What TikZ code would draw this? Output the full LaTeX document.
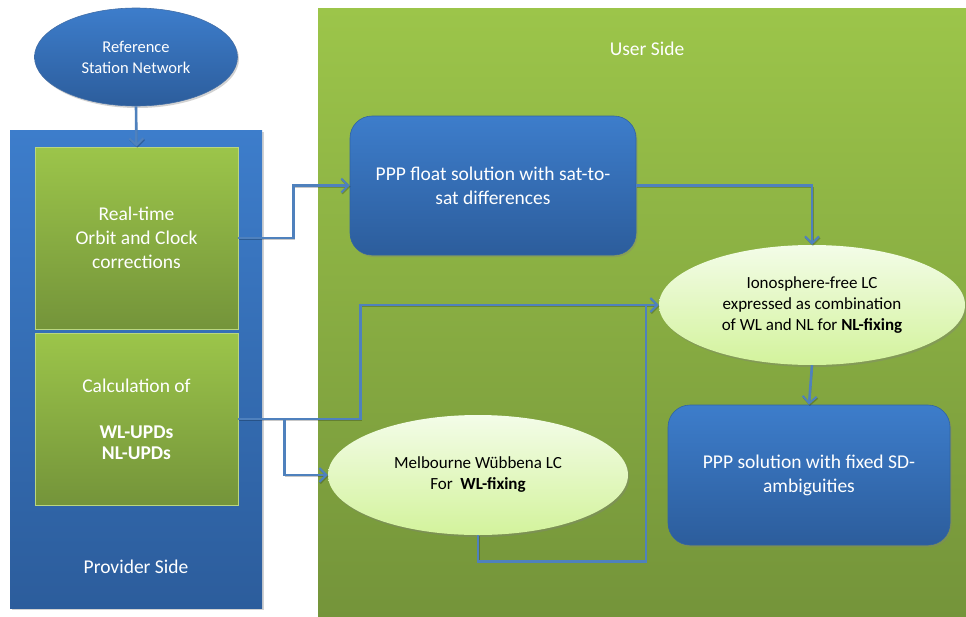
\documentclass[tikz,border=0pt]{standalone}
\usepackage{fontspec}
\setmainfont{Carlito}
\usetikzlibrary{arrows.meta,shapes.geometric,shadows,calc}
\definecolor{bluetop}{HTML}{3D7DCB}
\definecolor{bluebot}{HTML}{2C5D9C}
\definecolor{greentop}{HTML}{9CC54A}
\definecolor{greenbot}{HTML}{74943A}
\definecolor{paletop}{HTML}{F3FCE8}
\definecolor{palebot}{HTML}{D3F39C}
\definecolor{connblue}{HTML}{4F81BD}
\tikzset{
  shade blue/.style={top color=bluetop, bottom color=bluebot},
  shade green/.style={top color=greentop, bottom color=greenbot},
  softshadow/.style={drop shadow={opacity=0.35, shadow xshift=1.5pt, shadow yshift=-2pt}},
  blueoval/.style={ellipse, shade blue, draw=bluebot!90, line width=0.6pt, softshadow,
    text=white, align=center, font=\fontsize{16.5}{21}\selectfont, inner sep=0pt},
  paleoval/.style={ellipse, top color=paletop, bottom color=palebot, draw=none, softshadow,
    text=black, align=center, font=\fontsize{17}{21}\selectfont, inner sep=0pt},
  greenbox/.style={rectangle, shade green, draw=greentop!70!white, line width=0.6pt,
    text=white, align=center, font=\fontsize{19.5}{24}\selectfont, inner sep=0pt},
  bluebox/.style={rectangle, rounded corners=22pt, shade blue, draw=bluetop!80!black, line width=0.6pt,
    softshadow, text=white, align=center, font=\fontsize{19.5}{24}\selectfont, inner sep=0pt},
  conn/.style={draw=connblue, line width=2.6pt,
    preaction={draw=black, opacity=0.22, transform canvas={xshift=0.8pt, yshift=-1.2pt}}},
  arr/.style={conn, -{Straight Barb[length=7pt,width=14pt,line width=2pt]}},
  sidelabel/.style={text=white, font=\fontsize{19.5}{22}\selectfont}
}
\begin{document}
\begin{tikzpicture}[x=1pt,y=-1pt]
\useasboundingbox (0,0) rectangle (966,616);
\fill[white] (0,0) rectangle (966,616);

% user-side panel
\path[shade green, softshadow] (318,8) rectangle (968,618);
\node[sidelabel] (userlbl) at (647,49) {User Side};

% provider-side panel
\path[shade blue, softshadow] (10,130) rectangle (262,608);
\node[sidelabel] (provlbl) at (136,567) {Provider Side};

% reference network
\node[blueoval, minimum width=203pt, minimum height=98pt] (ref) at (136,57)
  {Reference\\Station Network};

% provider products
\node[greenbox, minimum width=203pt, minimum height=182pt] (rt) at (136.5,238)
  {Real-time\\Orbit and Clock\\corrections};
\node[greenbox, minimum width=203pt, minimum height=172pt] (upd) at (136.5,419)
  {Calculation of\\[22pt]\textbf{WL-UPDs}\\[-3pt]\textbf{NL-UPDs}};

% user processing steps
\node[bluebox, minimum width=286pt, minimum height=139pt] (ppp) at (493,185.5)
  {PPP float solution with sat-to-\\sat differences};
\node[paleoval, minimum width=306pt, minimum height=120pt] (iono) at (812,305)
  {Ionosphere-free LC\\expressed as combination\\of WL and NL for \textbf{NL-fixing}};
\node[paleoval, minimum width=300pt, minimum height=120pt] (mw) at (478,475)
  {Melbourne Wübbena LC\\For\ \ \textbf{WL-fixing}};
\node[bluebox, minimum width=282pt, minimum height=140pt] (fixed) at (809,475)
  {PPP solution with fixed SD-\\ambiguities};

% connectors
\draw[arr] (ref.south) -- (rt.north);
\draw[arr] (rt.east) -- ++(55,0) |- (ppp.west);
\draw[arr] (ppp.east) -| (iono.north);
\draw[arr] (iono.south) -- (fixed.north);
\coordinate (split) at ([xshift=46]upd.east);
\coordinate (merge) at ([xshift=-13]iono.west);
\draw[arr] (upd.east) -- ++(122,0) |- (iono.west);
\draw[arr] (split) |- (mw.west);
\draw[conn] (mw.south) -- ++(0,26) -| (merge);
\end{tikzpicture}
\end{document}
